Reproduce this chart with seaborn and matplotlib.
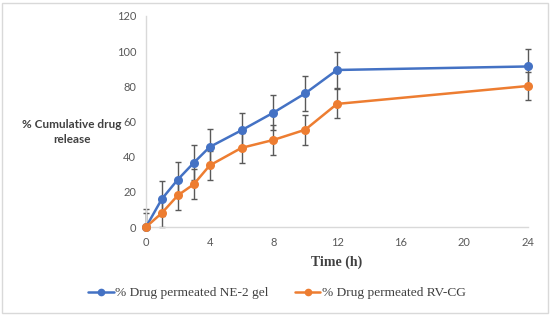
import matplotlib
matplotlib.use("Agg")
import matplotlib.pyplot as plt
import seaborn as sns
import pandas as pd
from matplotlib.patches import Rectangle
from matplotlib.lines import Line2D

time_h = [0, 1, 2, 3, 4, 6, 8, 10, 12, 24]
ne2_gel = [0, 16, 27, 36.5, 45.5, 55, 65, 76, 89.3, 91.3]
ne2_err = [10, 10, 10, 10, 10, 10, 10, 10, 10, 10]
rv_cg = [0, 8, 18, 24.3, 35, 45, 49.5, 55.3, 70, 80.2]
rv_err = [8, 8.5, 8.5, 8.5, 8.5, 8.5, 8.3, 8.4, 8.2, 8]
series_names = ["% Drug permeated NE-2 gel", "% Drug permeated RV-CG"]
colors = ["#4472C4", "#ED7D31"]

df = pd.concat([
    pd.DataFrame({"t": time_h, "v": ne2_gel, "e": ne2_err, "s": series_names[0]}),
    pd.DataFrame({"t": time_h, "v": rv_cg, "e": rv_err, "s": series_names[1]}),
])

sns.set_theme(style="white")
plt.rcParams['font.family'] = ['Lato', 'DejaVu Sans']

fig = plt.figure(figsize=(5.5, 3.15), dpi=100)
ax = fig.add_axes([146/550, 1-227/315, (528-146)/550, (227-16)/315])

for name, col in zip(series_names, colors):
    sub = df[df.s == name]
    lower = [min(e, v) for e, v in zip(sub.e, sub.v)]
    ax.errorbar(sub.t, sub.v, yerr=[lower, list(sub.e)], fmt="none", ecolor="#595959",
                elinewidth=1.0, capsize=2.5, capthick=1.0, zorder=2, clip_on=False)

sns.lineplot(data=df, x="t", y="v", hue="s", palette=colors, marker="o",
             markersize=6.5, markeredgewidth=0, linewidth=1.8, ax=ax,
             legend=False, zorder=3, clip_on=False)

ax.set_xlim(0, 24)
ax.set_ylim(0, 120)
ax.set_xticks([0, 4, 8, 12, 16, 20, 24])
ax.set_yticks([0, 20, 40, 60, 80, 100, 120])
ax.tick_params(axis="both", length=0, labelsize=8, colors="#595959")
ax.tick_params(axis="y", pad=7)
ax.tick_params(axis="x", pad=7.5)
for s in ["top", "right"]:
    ax.spines[s].set_visible(False)
for s in ["left", "bottom"]:
    ax.spines[s].set_color("#d9d9d9")
    ax.spines[s].set_linewidth(1.0)

ax.set_xlabel("Time (h)", fontfamily="Liberation Serif", fontweight="bold",
              fontsize=10, color="#404040", labelpad=5)
ax.set_ylabel("")
fig.text(72/550, 1-132/315, "% Cumulative drug\nrelease", ha="center", va="center",
         fontsize=8.5, fontweight="bold", color="#404040", linespacing=1.5)

handles = [Line2D([0], [0], color=c, marker="o", markersize=4.5, linewidth=1.8)
           for c in colors]
fig.legend(handles, series_names, loc="center", bbox_to_anchor=(277/550, 1-293/315),
           ncol=2, frameon=False, prop={"family": "Liberation Serif", "size": 9.6},
           handlelength=1.9, handletextpad=0.1, columnspacing=2.0, labelcolor="#404040")

fig.patches.append(Rectangle((0.004, 0.006), 0.992, 0.985, transform=fig.transFigure,
                             fill=False, edgecolor="#d9d9d9", linewidth=1.0))

fig.savefig("out.png", dpi=100)
